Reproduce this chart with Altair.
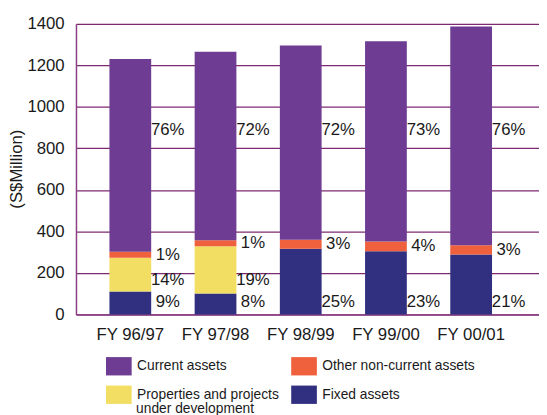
import altair as alt
import pandas as pd

categories = ["FY 96/97", "FY 97/98", "FY 98/99", "FY 99/00", "FY 00/01"]
# legend is laid out column by column: (Current, Properties) | (Other, Fixed)
series = ["Current assets", "Properties and projects under development",
          "Other non-current assets", "Fixed assets"]
colors = ["#6E3C92", "#F2DE62", "#EF603D", "#302F80"]

fixed = [110, 101, 316, 305, 289]
properties = [163, 228, 0, 0, 0]
other = [29, 28, 44, 47, 44]
current = [928, 909, 936, 964, 1054]

pct_current = ["76%", "72%", "72%", "73%", "76%"]
pct_other = ["1%", "1%", "3%", "4%", "3%"]
pct_prop = ["14%", "19%", "", "", ""]
pct_fixed = ["9%", "8%", "25%", "23%", "21%"]

y_ticks = [0, 200, 400, 600, 800, 1000, 1200, 1400]

FONT = "Liberation Sans"

rows = []
for i, c in enumerate(categories):
    for s, v, o in [("Fixed assets", fixed[i], 0),
                    ("Properties and projects under development", properties[i], 1),
                    ("Other non-current assets", other[i], 2),
                    ("Current assets", current[i], 3)]:
        rows.append({"cat": c, "series": s, "value": v, "ord": o})
df = pd.DataFrame(rows)

lab = []
for i, c in enumerate(categories):
    lab.append({"cat": c, "t": pct_current[i], "y": 890})
    lab.append({"cat": c, "t": pct_other[i], "y": fixed[i] + properties[i] + other[i] / 2})
    if pct_prop[i]:
        lab.append({"cat": c, "t": pct_prop[i], "y": 166})
    lab.append({"cat": c, "t": pct_fixed[i], "y": 62})
ldf = pd.DataFrame(lab)

xscale = alt.Scale(domain=categories, paddingInner=0.51, paddingOuter=0.472, align=0.416)
yscale = alt.Scale(domain=[0, 1400], nice=False)

bars = alt.Chart(df).mark_bar().encode(
    x=alt.X("cat:N", scale=xscale, sort=categories,
            axis=alt.Axis(title=None, labelAngle=0, labelFontSize=17, labelFont=FONT,
                          labelColor="#1a1a1a", ticks=False, labelPadding=12,
                          domainColor="#8B3F85", domainWidth=1.5)),
    y=alt.Y("value:Q", stack="zero", scale=yscale,
            axis=alt.Axis(title="(S$Million)", values=y_ticks, format="d",
                          labelFontSize=17, labelFont=FONT, labelColor="#1a1a1a",
                          ticks=False, labelPadding=12, titleFont=FONT,
                          titleFontSize=17, titleFontWeight="normal",
                          titleColor="#1a1a1a", titleAngle=-90, titleX=-60,
                          titleY=147, titleBaseline="middle", titleAlign="center",
                          grid=True, gridColor="#7D2A72", gridWidth=1.2,
                          domainColor="#8B3F85", domainWidth=1.5)),
    color=alt.Color("series:N", scale=alt.Scale(domain=series, range=colors),
                    legend=alt.Legend(
                        title=None, orient="none", legendX=34, legendY=338,
                        columns=2, columnPadding=12, rowPadding=10,
                        labelFont=FONT, labelFontSize=14, labelColor="#1a1a1a",
                        labelLimit=300, labelOffset=9,
                        symbolType="M-1.4,-1L1.4,-1L1.4,1L-1.4,1Z",
                        symbolSize=346, symbolStrokeWidth=0,
                        labelExpr="datum.label == 'Properties and projects under development' ? 'Properties and projects' : datum.label")),
    order=alt.Order("ord:Q"),
)

labels = alt.Chart(ldf).mark_text(dx=38, align="center", baseline="middle",
                                  fontSize=17, font=FONT, color="#1a1a1a").encode(
    x=alt.X("cat:N", scale=xscale, sort=categories),
    y=alt.Y("y:Q", scale=yscale),
    text="t:N",
)

legend_line2 = alt.Chart(pd.DataFrame({"t": ["under development"]})).mark_text(
    align="left", baseline="middle", fontSize=14, font=FONT, color="#1a1a1a"
).encode(x=alt.value(61), y=alt.value(391), text="t:N")

chart = (bars + labels + legend_line2).properties(
    width=470, height=295,
    autosize=alt.AutoSizeParams(type="none"),
    padding={"left": 69, "top": 13, "right": 0, "bottom": 99},
    background="white",
).configure_view(stroke=None)

chart.save("out.html", embed_options={"renderer": "svg", "actions": False})
